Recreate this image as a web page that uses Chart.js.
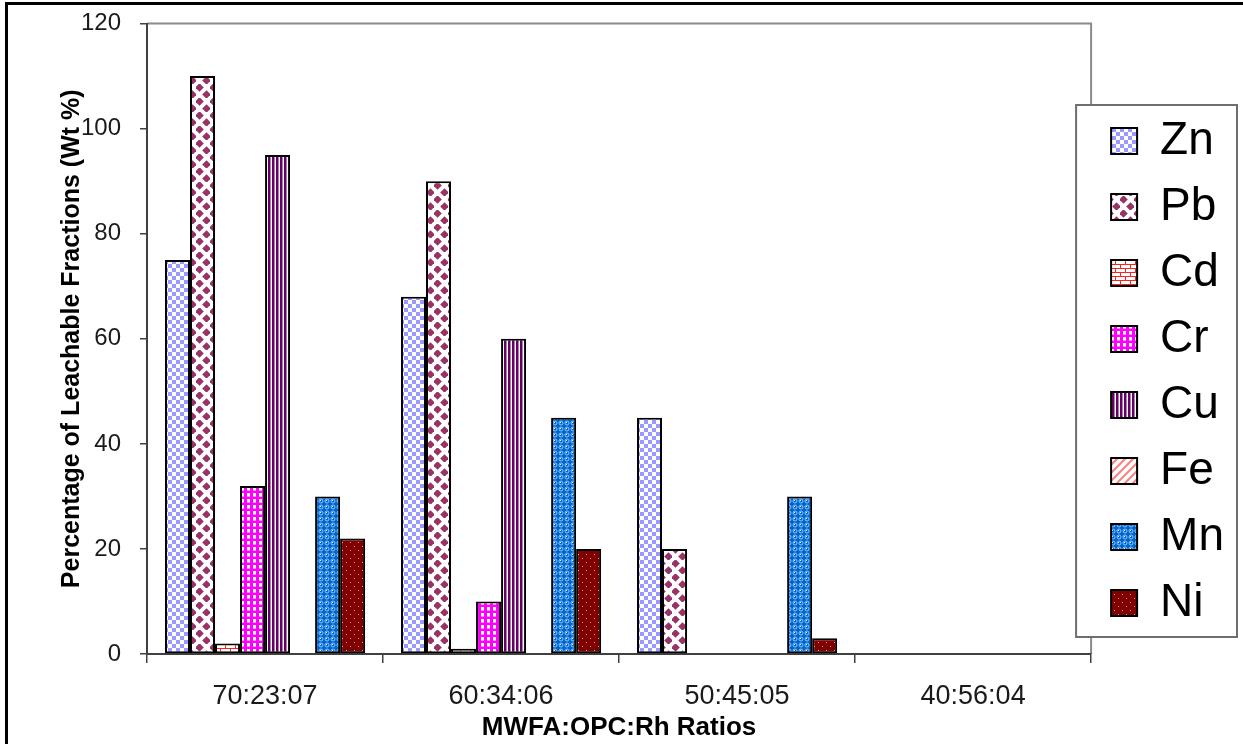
<!DOCTYPE html>
<html>
<head>
<meta charset="utf-8">
<title>Leachable Fractions</title>
<script src="https://cdn.jsdelivr.net/npm/chart.js@4"></script>
<style>
  html, body { margin: 0; padding: 0; background: #fff; }
  #wrap { width: 1243px; height: 744px; }
</style>
</head>
<body>
<div id="wrap"><canvas id="leachChart" width="1243" height="744"></canvas></div>
<script>
// data
const ratios = ['70:23:07', '60:34:06', '50:45:05', '40:56:04']
const zn = [75, 68, 45, 0]
const pb = [110, 90, 20, 0]
const cd = [2, 1, 0, 0]
const cr = [32, 10, 0, 0]
const cu = [95, 60, 0, 0]
const fe = [0, 0, 0, 0]
const mn = [30, 45, 30, 0]
const ni = [22, 20, 3, 0]
const yTicks = [0, 20, 40, 60, 80, 100, 120]

// little fill patterns like the Excel ones
const makePattern = (w, h, paint) => {
    const c = document.createElement('canvas')
    c.width = w
    c.height = h
    const g = c.getContext('2d')
    paint(g)
    return g.createPattern(c, 'repeat')
}

const patZn = makePattern(8, 8, g => {
    g.fillStyle = '#ffffff'; g.fillRect(0, 0, 8, 8)
    g.fillStyle = '#9999ff'; g.fillRect(0, 0, 4, 4); g.fillRect(4, 4, 4, 4)
})
const patPb = makePattern(14, 14, g => {
    g.fillStyle = '#ffffff'; g.fillRect(0, 0, 14, 14)
    g.fillStyle = '#993366'
    const diamond = (x, y, r) => {
        g.beginPath(); g.moveTo(x, y - r); g.lineTo(x + r, y); g.lineTo(x, y + r); g.lineTo(x - r, y); g.closePath(); g.fill()
    }
    diamond(3.5, 3.5, 4.3); diamond(10.5, 10.5, 4.3)
    diamond(-3.5, 17.5, 4.3); diamond(17.5, -3.5, 4.3)
})
const patCd = makePattern(10, 8, g => {
    g.fillStyle = '#ffffff'; g.fillRect(0, 0, 10, 8)
    g.fillStyle = '#ff2020'
    g.fillRect(0, 0, 10, 1); g.fillRect(0, 4, 10, 1)
    g.fillRect(0, 0, 1, 4); g.fillRect(5, 4, 1, 4)
})
const patCr = makePattern(6, 6, g => {
    g.fillStyle = '#ff00ff'; g.fillRect(0, 0, 6, 6)
    g.fillStyle = '#ffffff'; g.fillRect(1, 1, 3, 3)
    g.fillStyle = '#ff99ff'; g.fillRect(1, 4, 3, 1)
})
const patCu = makePattern(4, 4, g => {
    g.fillStyle = '#ffffff'; g.fillRect(0, 0, 4, 4)
    g.fillStyle = '#660066'; g.fillRect(0, 0, 2, 4)
    g.fillStyle = '#b080b0'; g.fillRect(2, 0, 1, 4)
})
const patFe = makePattern(8, 8, g => {
    g.fillStyle = '#ffffff'; g.fillRect(0, 0, 8, 8)
    g.strokeStyle = '#ff8080'; g.lineWidth = 2
    g.beginPath()
    g.moveTo(-2, 10); g.lineTo(10, -2)
    g.moveTo(-2, 2); g.lineTo(2, -2)
    g.moveTo(6, 10); g.lineTo(10, 6)
    g.stroke()
})
const patMn = makePattern(6, 6, g => {
    g.fillStyle = '#0066cc'; g.fillRect(0, 0, 6, 6)
    g.strokeStyle = '#8cc4ff'; g.lineWidth = 1
    g.beginPath(); g.arc(3, 3, 2, 0, Math.PI * 2); g.stroke()
    g.fillStyle = '#ffffff'; g.fillRect(2, 2, 1, 1)
})
const patNi = makePattern(8, 8, g => {
    g.fillStyle = '#800000'; g.fillRect(0, 0, 8, 8)
    g.fillStyle = '#e0a0a0'; g.fillRect(2, 2, 1, 1); g.fillRect(6, 6, 1, 1)
})

const series = [
    {label: 'Zn', data: zn, fill: patZn},
    {label: 'Pb', data: pb, fill: patPb},
    {label: 'Cd', data: cd, fill: patCd},
    {label: 'Cr', data: cr, fill: patCr},
    {label: 'Cu', data: cu, fill: patCu},
    {label: 'Fe', data: fe, fill: patFe},
    {label: 'Mn', data: mn, fill: patMn},
    {label: 'Ni', data: ni, fill: patNi}
]

// outer picture frame, plot frame and the legend box
const framePlugin = {
    id: 'frames',
    beforeDraw(chart) {
        const {ctx, chartArea: a, legend} = chart
        ctx.save()
        ctx.strokeStyle = '#000'
        ctx.lineWidth = 3
        ctx.beginPath()
        ctx.moveTo(6.5, chart.height)
        ctx.lineTo(6.5, 3.5)
        ctx.lineTo(chart.width, 3.5)
        ctx.stroke()

        ctx.strokeStyle = '#8a8a8a'
        ctx.lineWidth = 2
        ctx.beginPath()
        ctx.moveTo(a.left, a.top)
        ctx.lineTo(a.right, a.top)
        ctx.lineTo(a.right, a.bottom)
        ctx.stroke()

        const hb = legend.legendHitBoxes
        const first = hb[0]
        const last = hb[hb.length - 1]
        const x0 = first.left - 35
        const y0 = first.top - 13
        const x1 = chart.width - 6
        const y1 = last.top + last.height + 11
        ctx.fillStyle = '#fff'
        ctx.fillRect(x0, y0, x1 - x0, y1 - y0)
        ctx.strokeStyle = '#6e6e6e'
        ctx.lineWidth = 2
        ctx.strokeRect(x0, y0, x1 - x0, y1 - y0)
        ctx.restore()
    }
}

Chart.defaults.font.family = "'Liberation Sans', Arial, sans-serif"
Chart.defaults.color = '#111'

const ctx = document.querySelector('#leachChart')
const leachChart = new Chart(ctx, {
    type: 'bar',
    data: {
        labels: ratios,
        datasets: series.map(s => ({
            label: s.label,
            data: s.data,
            backgroundColor: s.fill,
            borderColor: '#000',
            borderWidth: 2,
            borderSkipped: false,
            categoryPercentage: 0.848,
            barPercentage: 1
        }))
    },
    options: {
        responsive: false,
        animation: false,
        devicePixelRatio: 1,
        layout: {padding: {left: 20, right: 9, top: 0, bottom: 0}},
        plugins: {
            tooltip: {enabled: false},
            legend: {
                position: 'right',
                labels: {
                    boxWidth: 26,
                    boxHeight: 26,
                    padding: 20,
                    color: '#000',
                    font: {size: 46}
                }
            }
        },
        scales: {
            x: {
                grid: {
                    drawOnChartArea: false,
                    drawTicks: true,
                    tickLength: 9,
                    color: '#404040',
                    lineWidth: 1.5
                },
                border: {display: true, color: '#404040', width: 2},
                ticks: {padding: 17, color: '#1a1a1a', font: {size: 27}},
                title: {
                    display: true,
                    text: 'MWFA:OPC:Rh Ratios',
                    color: '#000',
                    font: {size: 26, weight: 'bold', lineHeight: 1},
                    padding: {top: -14.5, bottom: 3}
                }
            },
            y: {
                min: 0,
                max: 120,
                afterBuildTicks: axis => { axis.ticks = yTicks.map(v => ({value: v})) },
                grid: {
                    drawOnChartArea: false,
                    drawTicks: true,
                    tickLength: 7,
                    color: '#404040',
                    lineWidth: 1.5
                },
                border: {display: true, color: '#404040', width: 2},
                ticks: {padding: 19, color: '#1a1a1a', font: {size: 24, lineHeight: 0.375}},
                title: {
                    display: true,
                    text: 'Percentage of Leachable Fractions (Wt %)',
                    color: '#000',
                    font: {size: 25, weight: 'bold', lineHeight: 1},
                    padding: {top: 39.5, bottom: -22.5}
                }
            }
        }
    },
    plugins: [framePlugin]
})
</script>
</body>
</html>
